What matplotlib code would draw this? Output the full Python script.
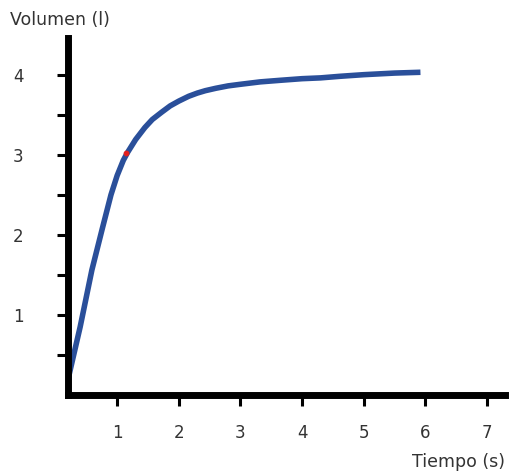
import matplotlib.pyplot as plt

# curve (time in s, volume in l)
tiempo = [0.19, 0.4, 0.59, 0.76, 0.9, 1.0, 1.1, 1.17, 1.3, 1.45, 1.57, 1.72, 1.86, 2.0,
          2.16, 2.3, 2.43, 2.6, 2.8, 3.0, 3.32, 3.65, 4.0, 4.3, 4.62, 5.0, 5.5, 5.92]
volumen = [0.15, 0.85, 1.56, 2.08, 2.5, 2.74, 2.93, 3.03, 3.19, 3.34, 3.44, 3.53, 3.61, 3.67,
           3.73, 3.77, 3.8, 3.83, 3.86, 3.88, 3.91, 3.93, 3.95, 3.96, 3.98, 4.0, 4.02, 4.03]

# highlighted point
punto_t = [1.145]
punto_v = [3.02]

x_ticks = [1, 2, 3, 4, 5, 6, 7]
y_ticks = [0.5, 1, 1.5, 2, 2.5, 3, 3.5, 4]
y_labels = ['', '1', '', '2', '', '3', '', '4']

fig = plt.figure(figsize=(5.1, 4.73), dpi=100)
ax = fig.add_axes([0.133, 0.165, 0.857, 0.755])

ax.plot(tiempo, volumen, color='#2a4f9a', lw=4, solid_capstyle='butt',
        solid_joinstyle='round')
ax.scatter(punto_t, punto_v, color='#e02020', s=10, zorder=3)

ax.set_xlim(0.2, 7.29)
ax.set_ylim(0, 4.46)

ax.set_xticks(x_ticks)
ax.set_yticks(y_ticks)
ax.set_yticklabels(y_labels)

for s in ['top', 'right']:
    ax.spines[s].set_visible(False)
for s in ['left', 'bottom']:
    ax.spines[s].set_linewidth(5)

ax.tick_params(axis='both', direction='out', length=8, width=2.2,
               labelsize=12, colors='black', labelcolor='#333333')
ax.tick_params(axis='y', pad=24)
ax.tick_params(axis='x', pad=13)

fig.text(0.02, 0.957, 'Volumen (l)', fontsize=12.5, color='#333333', va='center')
fig.text(0.99, 0.023, 'Tiempo (s)', fontsize=12.5, color='#333333', va='center', ha='right')

fig.savefig('out.png', dpi=100)
